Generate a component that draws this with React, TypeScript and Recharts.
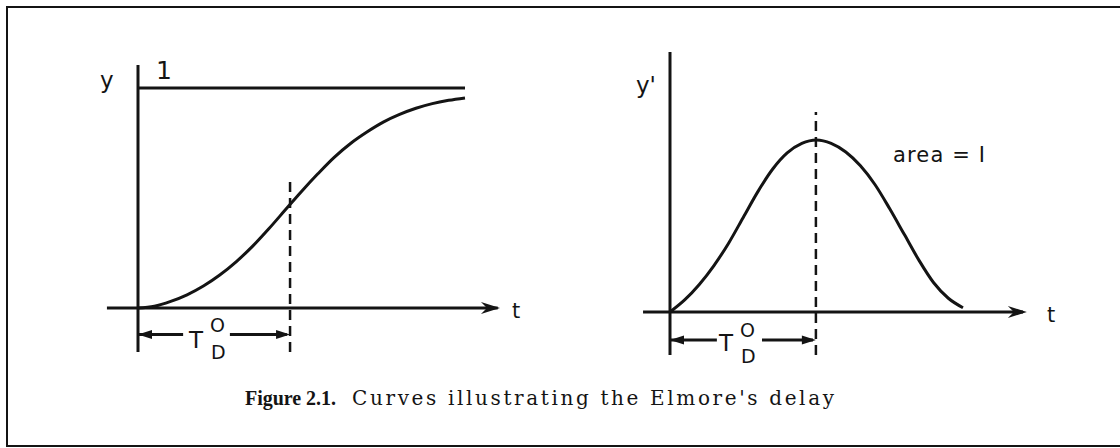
import { LineChart, Line, XAxis, YAxis, ReferenceLine, ReferenceDot } from 'recharts';

// step response y(t)
const stepT = [0, 0.5, 1, 1.5, 2, 2.5, 3, 3.5, 4, 4.5, 5, 5.5, 6, 6.5, 7, 7.5, 8, 8.5, 9, 9.5, 10];
const stepY = [0, 0.008, 0.03, 0.06, 0.1, 0.15, 0.21, 0.28, 0.36, 0.445, 0.53, 0.61, 0.685, 0.748, 0.8, 0.845, 0.88, 0.908, 0.929, 0.944, 0.955];

// impulse response y'(t), the bell on the right
const pulseT = [0, 0.5, 1, 1.5, 2, 2.5, 3, 3.5, 4, 4.5, 5, 5.5, 6, 6.5, 7, 7.5, 8, 8.5, 9, 9.5, 10];
const pulseY = [0, 0.07, 0.16, 0.27, 0.4, 0.55, 0.7, 0.83, 0.925, 0.98, 1.0, 0.98, 0.93, 0.85, 0.74, 0.6, 0.45, 0.3, 0.17, 0.08, 0.025];

// Elmore delay T_D^0 on each plot
const stepDelay = 4.65;
const pulseDelay = 4.98;

const stepData = stepT.map((t, i) => ({ t, y: stepY[i] }));
const pulseData = pulseT.map((t, i) => ({ t, y: pulseY[i] }));

const INK = '#141414';

const arrowRight = (p: any) => (
  <path d={`M${p.cx} ${p.cy} L${p.cx - 19} ${p.cy - 6} L${p.cx - 13} ${p.cy} L${p.cx - 19} ${p.cy + 6} Z`} fill={INK} />
);
const headLeft = (p: any) => (
  <path d={`M${p.cx} ${p.cy} L${p.cx + 14} ${p.cy - 4.5} L${p.cx + 14} ${p.cy + 4.5} Z`} fill={INK} />
);
const headRight = (p: any) => (
  <path d={`M${p.cx} ${p.cy} L${p.cx - 14} ${p.cy - 4.5} L${p.cx - 14} ${p.cy + 4.5} Z`} fill={INK} />
);

const line = { stroke: INK, strokeWidth: 3 };
const dashed = { stroke: INK, strokeWidth: 2.5, strokeDasharray: '10 6' };

const sans = '"DejaVu Sans", sans-serif';

export default function App() {
  return (
    <div style={{ position: 'absolute', left: 0, top: 0, width: 1120, height: 448, background: '#fff', overflow: 'hidden' }}>
      <div style={{ position: 'absolute', left: 0, top: 0 }}>
        <LineChart width={560} height={448} data={stepData} margin={{ top: 55, right: 55.76, bottom: 85, left: 105.3 }}>
          <XAxis dataKey="t" type="number" domain={[-1, 11.2]} hide allowDataOverflow />
          <YAxis type="number" domain={[-0.25, 1.15]} hide allowDataOverflow />
          <ReferenceLine segment={[{ x: 0, y: -0.2 }, { x: 0, y: 1.105 }]} {...line} />
          <ReferenceLine segment={[{ x: -0.95, y: 0 }, { x: 11, y: 0 }]} {...line} />
          <ReferenceDot x={11.07} y={0} shape={arrowRight} />
          <ReferenceLine segment={[{ x: 0, y: 1 }, { x: 10, y: 1 }]} {...line} />
          <ReferenceLine segment={[{ x: stepDelay, y: -0.2 }, { x: stepDelay, y: 0.575 }]} {...dashed} />
          <ReferenceLine segment={[{ x: 0, y: -0.12 }, { x: 1.38, y: -0.12 }]} {...line} />
          <ReferenceLine segment={[{ x: 2.81, y: -0.12 }, { x: stepDelay - 0.1, y: -0.12 }]} {...line} />
          <ReferenceDot x={0} y={-0.12} shape={headLeft} />
          <ReferenceDot x={stepDelay} y={-0.12} shape={headRight} />
          <Line dataKey="y" type="monotone" stroke={INK} strokeWidth={3} dot={false} isAnimationActive={false} />
        </LineChart>
      </div>

      <div style={{ position: 'absolute', left: 560, top: 0 }}>
        <LineChart width={560} height={448} data={pulseData} margin={{ top: 45.4, right: 86.7, bottom: 84.4, left: 80.7 }}>
          <XAxis dataKey="t" type="number" domain={[-1, 12.4]} hide allowDataOverflow />
          <YAxis type="number" domain={[-0.3, 1.55]} hide allowDataOverflow />
          <ReferenceLine segment={[{ x: 0, y: -0.25 }, { x: 0, y: 1.512 }]} {...line} />
          <ReferenceLine segment={[{ x: -0.92, y: 0 }, { x: 12.05, y: 0 }]} {...line} />
          <ReferenceDot x={12.18} y={0} shape={arrowRight} />
          <ReferenceLine segment={[{ x: pulseDelay, y: -0.25 }, { x: pulseDelay, y: 1.163 }]} {...dashed} />
          <ReferenceLine segment={[{ x: 0, y: -0.163 }, { x: 1.6, y: -0.163 }]} {...line} />
          <ReferenceLine segment={[{ x: 3.14, y: -0.163 }, { x: pulseDelay - 0.1, y: -0.163 }]} {...line} />
          <ReferenceDot x={0} y={-0.163} shape={headLeft} />
          <ReferenceDot x={pulseDelay} y={-0.163} shape={headRight} />
          <Line dataKey="y" type="monotone" stroke={INK} strokeWidth={3} dot={false} isAnimationActive={false} />
        </LineChart>
      </div>

      <svg width={1120} height={448} style={{ position: 'absolute', left: 0, top: 0, pointerEvents: 'none' }}>
        <rect x={7} y={7} width={1130} height={439} fill="none" stroke={INK} strokeWidth={2} />

        <g fill={INK} fontFamily={sans}>
          <text x={100} y={88} fontSize={23}>y</text>
          <text x={156} y={79} fontSize={25}>1</text>
          <text x={512} y={318} fontSize={21}>t</text>
          <text x={189} y={348} fontSize={23}>T</text>
          <text x={210} y={332} fontSize={19}>O</text>
          <text x={211} y={359} fontSize={19}>D</text>

          <text x={636} y={93} fontSize={23}>y'</text>
          <text x={893} y={162} fontSize={21} textLength={92} lengthAdjust="spacing">area = I</text>
          <text x={1047} y={322} fontSize={21}>t</text>
          <text x={719} y={351} fontSize={23}>T</text>
          <text x={740} y={337} fontSize={19}>O</text>
          <text x={741} y={363} fontSize={19}>D</text>
        </g>

        <g fill={INK} fontSize={20}>
          <text x={245} y={405} fontFamily={'"Liberation Serif", serif'} fontWeight="bold" textLength={91} lengthAdjust="spacing">Figure 2.1.</text>
          <text x={352} y={405} fontFamily={'"DejaVu Serif", serif'} textLength={482} lengthAdjust="spacing">Curves illustrating the Elmore's delay</text>
        </g>
      </svg>
    </div>
  );
}
